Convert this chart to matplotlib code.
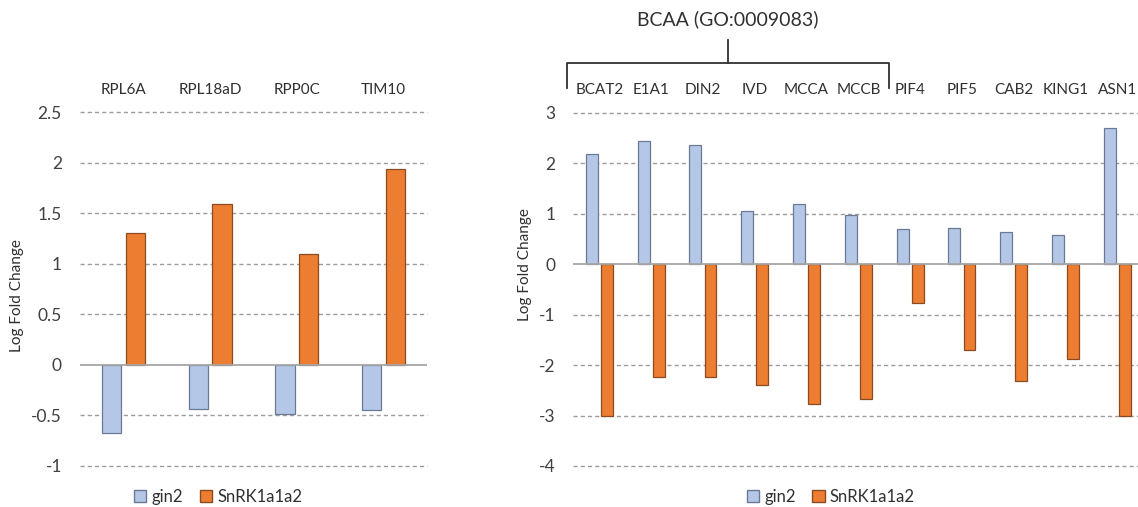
import numpy as np
import matplotlib.pyplot as plt
from matplotlib.lines import Line2D
from matplotlib.patches import Patch
import matplotlib.transforms as mtransforms

plt.rcParams['font.family'] = ['Lato', 'DejaVu Sans']

# ribosomal / mitochondrial genes (left panel)
genes_a = ['RPL6A', 'RPL18aD', 'RPP0C', 'TIM10']
gin2_a = [-0.68, -0.44, -0.49, -0.45]
snrk_a = [1.30, 1.59, 1.10, 1.94]
yticks_a = [-1, -0.5, 0, 0.5, 1, 1.5, 2, 2.5]
ylabels_a = ['-1', '-0.5', '0', '0.5', '1', '1.5', '2', '2.5']

# BCAA and other marker genes (right panel)
genes_b = ['BCAT2', 'E1A1', 'DIN2', 'IVD', 'MCCA', 'MCCB',
           'PIF4', 'PIF5', 'CAB2', 'KING1', 'ASN1']
gin2_b = [2.18, 2.43, 2.35, 1.05, 1.20, 0.98, 0.69, 0.72, 0.64, 0.57, 2.70]
snrk_b = [-3.00, -2.23, -2.23, -2.40, -2.77, -2.67, -0.78, -1.70, -2.32, -1.88, -3.00]
yticks_b = [-4, -3, -2, -1, 0, 1, 2, 3]
bcaa_genes = ['BCAT2', 'E1A1', 'DIN2', 'IVD', 'MCCA', 'MCCB']
bcaa_title = 'BCAA (GO:0009083)'

BLUE = '#B4C7E7'
BLUE_EDGE = '#6B7A92'
ORANGE = '#ED7D31'
ORANGE_EDGE = '#8A4A22'
GRID = '#9C9C9C'

fig = plt.figure(figsize=(11.38, 5.07), dpi=100)
ax1 = fig.add_axes([0.0703, 0.0815, 0.3049, 0.697])
ax2 = fig.add_axes([0.5039, 0.0809, 0.5007, 0.6969])


def draw_panel(ax, genes, gin2, snrk, yticks, ylabels, width, off):
    x = np.arange(len(genes))
    for t in yticks:
        if t == 0:
            ax.axhline(0, color='#A6A6A6', lw=1.3, zorder=3)
        else:
            ax.axhline(t, color=GRID, lw=1.0, ls=(0, (3, 2.2)), zorder=0,
                       clip_on=False)
    ax.bar(x - off, gin2, width=width, color=BLUE, edgecolor=BLUE_EDGE,
           linewidth=0.9, zorder=2)
    ax.bar(x + off, snrk, width=width, color=ORANGE, edgecolor=ORANGE_EDGE,
           linewidth=0.9, zorder=2)
    ax.set_xlim(-0.5, len(genes) - 0.5)
    ax.set_ylim(yticks[0], yticks[-1])
    ax.set_yticks(yticks)
    ax.set_yticklabels(ylabels, fontsize=12.5, color='#404040')
    ax.tick_params(axis='y', length=0, pad=13)
    ax.xaxis.tick_top()
    ax.set_xticks(x)
    ax.set_xticklabels(genes, fontsize=11, color='#303030')
    ax.tick_params(axis='x', length=0, pad=11)
    for s in ax.spines.values():
        s.set_visible(False)
    ax.set_ylabel('Log Fold Change', fontsize=11, color='#303030')


draw_panel(ax1, genes_a, gin2_a, snrk_a, yticks_a, ylabels_a, 0.22, 0.137)
draw_panel(ax2, genes_b, gin2_b, snrk_b, yticks_b,
           [str(t) for t in yticks_b], 0.23, 0.146)
ax1.yaxis.set_label_coords(-0.16, 0.48)
ax2.yaxis.set_label_coords(-0.072, 0.57)

# bracket over the BCAA genes
i0 = genes_b.index(bcaa_genes[0])
i1 = genes_b.index(bcaa_genes[-1])
bl, br = i0 - 0.63, i1 + 0.59
bmid = (bl + br) / 2
trans = mtransforms.blended_transform_factory(ax2.transData, ax2.transAxes)
kw = dict(color='#303030', lw=1.3, transform=trans, clip_on=False)
ax2.add_line(Line2D([bl, bl, br, br], [1.07, 1.141, 1.141, 1.07], **kw))
ax2.add_line(Line2D([bmid, bmid], [1.141, 1.206], **kw))
ax2.text(bmid, 1.265, bcaa_title, transform=trans, ha='center', va='center',
         fontsize=14, color='#303030')

handles = [Patch(facecolor=BLUE, edgecolor=BLUE_EDGE, label='gin2'),
           Patch(facecolor=ORANGE, edgecolor=ORANGE_EDGE, label='SnRK1a1a2')]
for cx in (0.1916, 0.730):
    fig.legend(handles=handles, loc='center', bbox_to_anchor=(cx, 0.02),
               ncol=2, frameon=False, fontsize=12, handlelength=0.75,
               handleheight=0.75, handletextpad=0.3, columnspacing=1.0,
               labelcolor='#303030')

fig.savefig('out.png', dpi=100)
